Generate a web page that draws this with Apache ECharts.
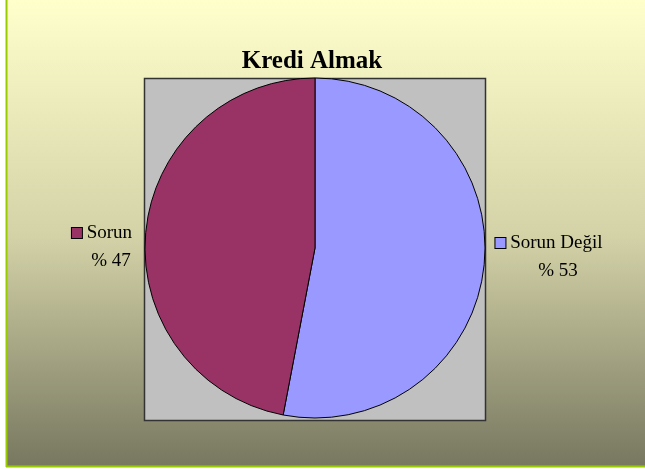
<!DOCTYPE html>
<html>
<head>
<meta charset="utf-8">
<script src="https://cdn.jsdelivr.net/npm/echarts@6/dist/echarts.min.js"></script>
<style>html,body{margin:0;padding:0;background:#fff}#c{width:645px;height:470px}</style>
</head>
<body>
<div id="c"></div>
<script>
const titleText = 'Kredi Almak';
const categories = ['Sorun Değil', 'Sorun'];
const values = [53, 47];
const colors = ['#9999FF', '#993366'];

const chart = echarts.init(document.getElementById('c'));
const serif = '"Liberation Serif", "Times New Roman", serif';

const labelPos = [
  { x: 549, y: 257 },
  { x: 102, y: 247 }
];

chart.setOption({
  animation: false,
  backgroundColor: '#ffffff',
  title: {
    text: titleText,
    left: 307,
    top: 44,
    textAlign: 'center',
    textStyle: { fontFamily: serif, fontWeight: 'bold', fontSize: 25, color: '#000' }
  },
  graphic: [
    {
      type: 'rect', z: -10, silent: true,
      shape: { x: 6, y: 0, width: 639, height: 467 },
      style: {
        fill: new echarts.graphic.LinearGradient(0, 0, 0, 1, [
          { offset: 0, color: '#FFFFCC' },
          { offset: 0.5, color: '#D4D3A8' },
          { offset: 1, color: '#777760' }
        ])
      }
    },
    { type: 'line', z: -5, silent: true, shape: { x1: 6.5, y1: 0, x2: 6.5, y2: 467 }, style: { stroke: '#99CC00', lineWidth: 2 } },
    { type: 'line', z: -5, silent: true, shape: { x1: 6, y1: 466.5, x2: 645, y2: 466.5 }, style: { stroke: '#99CC00', lineWidth: 2 } },
    {
      type: 'rect', z: -4, silent: true,
      shape: { x: 144.5, y: 78.5, width: 341, height: 342 },
      style: { fill: '#C0C0C0', stroke: '#333333', lineWidth: 1.5 }
    }
  ],
  series: [{
    type: 'pie',
    center: [315, 248],
    radius: 170,
    startAngle: 90,
    clockwise: true,
    data: categories.map((n, i) => ({ name: n, value: values[i], itemStyle: { color: colors[i] } })),
    itemStyle: { borderColor: '#000', borderWidth: 1 },
    emphasis: { disabled: true },
    labelLine: { show: false },
    label: {
      show: true,
      position: 'outside',
      overflow: 'none',
      width: 200,
      formatter: function (p) {
        return '{sq' + p.dataIndex + '|}{t| ' + p.name + '}\n{v|% ' + p.value + '}';
      },
      align: 'center',
      fontFamily: serif,
      fontSize: 19,
      color: '#000',
      lineHeight: 28,
      rich: {
        sq0: { width: 10, height: 10, backgroundColor: colors[0], borderColor: '#000', borderWidth: 1 },
        sq1: { width: 10, height: 10, backgroundColor: colors[1], borderColor: '#000', borderWidth: 1 },
        t: { fontFamily: serif, fontSize: 19, color: '#000', lineHeight: 28 },
        v: { fontFamily: serif, fontSize: 19, color: '#000', lineHeight: 28, padding: [0, 0, 0, 18] }
      }
    },
    labelLayout: function (params) {
      const p = labelPos[params.dataIndex];
      return { x: p.x, y: p.y, align: 'center', verticalAlign: 'middle' };
    }
  }]
});
</script>
</body>
</html>
